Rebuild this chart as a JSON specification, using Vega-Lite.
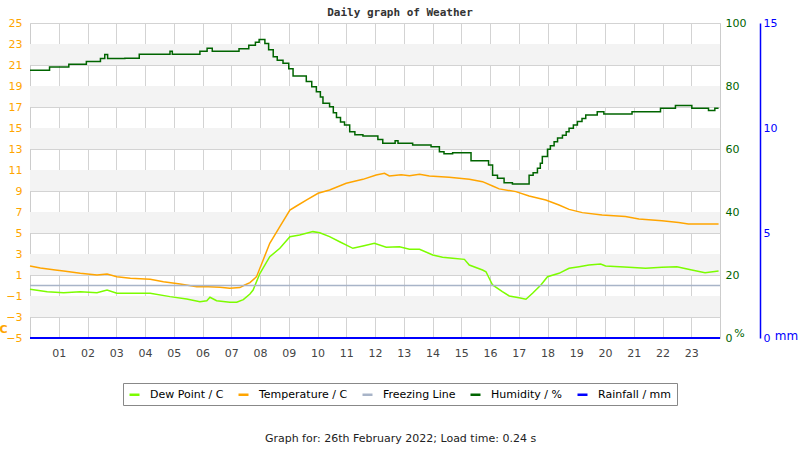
{
  "$schema": "https://vega.github.io/schema/vega-lite/v6.json",
  "width": 690,
  "height": 315,
  "autosize": "none",
  "padding": {"left": 30, "top": 23, "right": 80, "bottom": 112},
  "background": "white",
  "config": {
    "view": {"stroke": "#cccccc"},
    "font": "DejaVu Sans"
  },
  "title": {
    "text": "Daily graph of Weather",
    "font": "DejaVu Sans Mono",
    "fontWeight": "bold",
    "fontSize": 11,
    "color": "#333333",
    "anchor": "middle",
    "dx": 25,
    "offset": -1
  },
  "datasets": {
    "bands": [
      {"lo": 21, "hi": 23}, {"lo": 17, "hi": 19}, {"lo": 13, "hi": 15}, {"lo": 9, "hi": 11},
      {"lo": 5, "hi": 7}, {"lo": 1, "hi": 3}, {"lo": -3, "hi": -1}
    ],
    "weather": [
      {"s": "Temperature / C", "h": 0, "v": 1.86}, {"s": "Temperature / C", "h": 0.36, "v": 1.67},
      {"s": "Temperature / C", "h": 0.88, "v": 1.48}, {"s": "Temperature / C", "h": 1.17, "v": 1.38},
      {"s": "Temperature / C", "h": 1.75, "v": 1.16}, {"s": "Temperature / C", "h": 2.33, "v": 1.0},
      {"s": "Temperature / C", "h": 2.68, "v": 1.1}, {"s": "Temperature / C", "h": 3.02, "v": 0.84},
      {"s": "Temperature / C", "h": 3.49, "v": 0.69}, {"s": "Temperature / C", "h": 4.18, "v": 0.59},
      {"s": "Temperature / C", "h": 4.64, "v": 0.36}, {"s": "Temperature / C", "h": 5.22, "v": 0.14},
      {"s": "Temperature / C", "h": 5.8, "v": -0.11}, {"s": "Temperature / C", "h": 6.2, "v": -0.11},
      {"s": "Temperature / C", "h": 6.61, "v": -0.17}, {"s": "Temperature / C", "h": 6.95, "v": -0.27},
      {"s": "Temperature / C", "h": 7.3, "v": -0.2}, {"s": "Temperature / C", "h": 7.47, "v": 0.05},
      {"s": "Temperature / C", "h": 7.65, "v": 0.27}, {"s": "Temperature / C", "h": 7.88, "v": 0.84},
      {"s": "Temperature / C", "h": 8.11, "v": 2.43}, {"s": "Temperature / C", "h": 8.34, "v": 4.02},
      {"s": "Temperature / C", "h": 8.69, "v": 5.6}, {"s": "Temperature / C", "h": 9.04, "v": 7.19},
      {"s": "Temperature / C", "h": 9.27, "v": 7.57}, {"s": "Temperature / C", "h": 9.61, "v": 8.14},
      {"s": "Temperature / C", "h": 10.02, "v": 8.78}, {"s": "Temperature / C", "h": 10.42, "v": 9.1},
      {"s": "Temperature / C", "h": 11.0, "v": 9.73}, {"s": "Temperature / C", "h": 11.58, "v": 10.11},
      {"s": "Temperature / C", "h": 12.04, "v": 10.52}, {"s": "Temperature / C", "h": 12.33, "v": 10.68},
      {"s": "Temperature / C", "h": 12.5, "v": 10.43}, {"s": "Temperature / C", "h": 12.91, "v": 10.55},
      {"s": "Temperature / C", "h": 13.2, "v": 10.46}, {"s": "Temperature / C", "h": 13.55, "v": 10.59},
      {"s": "Temperature / C", "h": 13.89, "v": 10.43}, {"s": "Temperature / C", "h": 14.58, "v": 10.3},
      {"s": "Temperature / C", "h": 15.28, "v": 10.11}, {"s": "Temperature / C", "h": 15.74, "v": 9.89},
      {"s": "Temperature / C", "h": 16.09, "v": 9.48}, {"s": "Temperature / C", "h": 16.32, "v": 9.2},
      {"s": "Temperature / C", "h": 16.9, "v": 8.94}, {"s": "Temperature / C", "h": 17.36, "v": 8.52},
      {"s": "Temperature / C", "h": 17.94, "v": 8.14}, {"s": "Temperature / C", "h": 18.4, "v": 7.67},
      {"s": "Temperature / C", "h": 18.75, "v": 7.25}, {"s": "Temperature / C", "h": 19.21, "v": 6.94},
      {"s": "Temperature / C", "h": 19.9, "v": 6.71}, {"s": "Temperature / C", "h": 20.71, "v": 6.56},
      {"s": "Temperature / C", "h": 21.18, "v": 6.33}, {"s": "Temperature / C", "h": 21.98, "v": 6.17},
      {"s": "Temperature / C", "h": 22.56, "v": 6.01}, {"s": "Temperature / C", "h": 22.9, "v": 5.86},
      {"s": "Temperature / C", "h": 23.95, "v": 5.86},

      {"s": "Dew Point / C", "h": 0, "v": -0.36}, {"s": "Dew Point / C", "h": 0.6, "v": -0.59},
      {"s": "Dew Point / C", "h": 1.17, "v": -0.69}, {"s": "Dew Point / C", "h": 1.75, "v": -0.59},
      {"s": "Dew Point / C", "h": 2.33, "v": -0.69}, {"s": "Dew Point / C", "h": 2.68, "v": -0.43},
      {"s": "Dew Point / C", "h": 3.02, "v": -0.74}, {"s": "Dew Point / C", "h": 3.6, "v": -0.74},
      {"s": "Dew Point / C", "h": 4.18, "v": -0.74}, {"s": "Dew Point / C", "h": 4.87, "v": -1.06},
      {"s": "Dew Point / C", "h": 5.45, "v": -1.29}, {"s": "Dew Point / C", "h": 5.91, "v": -1.54},
      {"s": "Dew Point / C", "h": 6.15, "v": -1.45}, {"s": "Dew Point / C", "h": 6.26, "v": -1.12},
      {"s": "Dew Point / C", "h": 6.49, "v": -1.45}, {"s": "Dew Point / C", "h": 6.95, "v": -1.6},
      {"s": "Dew Point / C", "h": 7.19, "v": -1.6}, {"s": "Dew Point / C", "h": 7.42, "v": -1.35},
      {"s": "Dew Point / C", "h": 7.65, "v": -0.81}, {"s": "Dew Point / C", "h": 7.76, "v": -0.43},
      {"s": "Dew Point / C", "h": 8.0, "v": 1.16}, {"s": "Dew Point / C", "h": 8.34, "v": 2.74},
      {"s": "Dew Point / C", "h": 8.69, "v": 3.54}, {"s": "Dew Point / C", "h": 9.04, "v": 4.65},
      {"s": "Dew Point / C", "h": 9.38, "v": 4.81}, {"s": "Dew Point / C", "h": 9.84, "v": 5.13},
      {"s": "Dew Point / C", "h": 10.08, "v": 5.03}, {"s": "Dew Point / C", "h": 10.42, "v": 4.65},
      {"s": "Dew Point / C", "h": 10.77, "v": 4.17}, {"s": "Dew Point / C", "h": 11.23, "v": 3.54},
      {"s": "Dew Point / C", "h": 11.58, "v": 3.76}, {"s": "Dew Point / C", "h": 11.98, "v": 4.02},
      {"s": "Dew Point / C", "h": 12.39, "v": 3.64}, {"s": "Dew Point / C", "h": 12.85, "v": 3.7},
      {"s": "Dew Point / C", "h": 13.2, "v": 3.45}, {"s": "Dew Point / C", "h": 13.55, "v": 3.45},
      {"s": "Dew Point / C", "h": 14.01, "v": 2.9}, {"s": "Dew Point / C", "h": 14.35, "v": 2.69},
      {"s": "Dew Point / C", "h": 14.7, "v": 2.59}, {"s": "Dew Point / C", "h": 15.11, "v": 2.49},
      {"s": "Dew Point / C", "h": 15.28, "v": 1.95}, {"s": "Dew Point / C", "h": 15.74, "v": 1.48},
      {"s": "Dew Point / C", "h": 15.86, "v": 1.31}, {"s": "Dew Point / C", "h": 16.09, "v": 0.05},
      {"s": "Dew Point / C", "h": 16.43, "v": -0.59}, {"s": "Dew Point / C", "h": 16.67, "v": -1.0},
      {"s": "Dew Point / C", "h": 17.01, "v": -1.16}, {"s": "Dew Point / C", "h": 17.25, "v": -1.31},
      {"s": "Dew Point / C", "h": 17.48, "v": -0.74}, {"s": "Dew Point / C", "h": 17.77, "v": 0.05},
      {"s": "Dew Point / C", "h": 18.0, "v": 0.84}, {"s": "Dew Point / C", "h": 18.4, "v": 1.16},
      {"s": "Dew Point / C", "h": 18.75, "v": 1.64}, {"s": "Dew Point / C", "h": 19.1, "v": 1.79},
      {"s": "Dew Point / C", "h": 19.44, "v": 1.95}, {"s": "Dew Point / C", "h": 19.85, "v": 2.05},
      {"s": "Dew Point / C", "h": 20.02, "v": 1.86}, {"s": "Dew Point / C", "h": 20.83, "v": 1.73},
      {"s": "Dew Point / C", "h": 21.41, "v": 1.64}, {"s": "Dew Point / C", "h": 21.98, "v": 1.73},
      {"s": "Dew Point / C", "h": 22.5, "v": 1.79}, {"s": "Dew Point / C", "h": 23.02, "v": 1.48},
      {"s": "Dew Point / C", "h": 23.48, "v": 1.22}, {"s": "Dew Point / C", "h": 23.95, "v": 1.38},

      {"s": "Freezing Line", "h": 0, "v": 0}, {"s": "Freezing Line", "h": 24, "v": 0},

      {"s": "Humidity / %", "h": 0, "v": 85}, {"s": "Humidity / %", "h": 0.68, "v": 86},
      {"s": "Humidity / %", "h": 1.35, "v": 86.9}, {"s": "Humidity / %", "h": 1.96, "v": 87.8},
      {"s": "Humidity / %", "h": 2.45, "v": 88.7}, {"s": "Humidity / %", "h": 2.6, "v": 90},
      {"s": "Humidity / %", "h": 2.7, "v": 88.7}, {"s": "Humidity / %", "h": 3.3, "v": 88.8},
      {"s": "Humidity / %", "h": 3.8, "v": 90.1}, {"s": "Humidity / %", "h": 4.87, "v": 91},
      {"s": "Humidity / %", "h": 4.95, "v": 90.1}, {"s": "Humidity / %", "h": 5.91, "v": 91},
      {"s": "Humidity / %", "h": 6.16, "v": 92}, {"s": "Humidity / %", "h": 6.34, "v": 91},
      {"s": "Humidity / %", "h": 7.27, "v": 91.8}, {"s": "Humidity / %", "h": 7.61, "v": 92.9},
      {"s": "Humidity / %", "h": 7.84, "v": 93.9}, {"s": "Humidity / %", "h": 7.97, "v": 94.8},
      {"s": "Humidity / %", "h": 8.17, "v": 93.5}, {"s": "Humidity / %", "h": 8.3, "v": 91.5},
      {"s": "Humidity / %", "h": 8.46, "v": 89.3}, {"s": "Humidity / %", "h": 8.6, "v": 88.2},
      {"s": "Humidity / %", "h": 8.8, "v": 87.2}, {"s": "Humidity / %", "h": 9.0, "v": 85.5},
      {"s": "Humidity / %", "h": 9.15, "v": 83.2}, {"s": "Humidity / %", "h": 9.61, "v": 81.4},
      {"s": "Humidity / %", "h": 9.8, "v": 79.8}, {"s": "Humidity / %", "h": 9.96, "v": 78.2},
      {"s": "Humidity / %", "h": 10.1, "v": 76.5}, {"s": "Humidity / %", "h": 10.19, "v": 74.5},
      {"s": "Humidity / %", "h": 10.42, "v": 73.4}, {"s": "Humidity / %", "h": 10.55, "v": 71.5},
      {"s": "Humidity / %", "h": 10.66, "v": 70}, {"s": "Humidity / %", "h": 10.8, "v": 68.6},
      {"s": "Humidity / %", "h": 10.94, "v": 67.6}, {"s": "Humidity / %", "h": 11.12, "v": 65.5},
      {"s": "Humidity / %", "h": 11.3, "v": 64.5}, {"s": "Humidity / %", "h": 11.58, "v": 64.1},
      {"s": "Humidity / %", "h": 12.1, "v": 63}, {"s": "Humidity / %", "h": 12.27, "v": 61.8},
      {"s": "Humidity / %", "h": 12.7, "v": 62.6}, {"s": "Humidity / %", "h": 12.8, "v": 61.8},
      {"s": "Humidity / %", "h": 13.31, "v": 61.3}, {"s": "Humidity / %", "h": 13.95, "v": 60.7},
      {"s": "Humidity / %", "h": 14.24, "v": 59.1}, {"s": "Humidity / %", "h": 14.4, "v": 58.5},
      {"s": "Humidity / %", "h": 14.7, "v": 58.8}, {"s": "Humidity / %", "h": 15.34, "v": 56.3},
      {"s": "Humidity / %", "h": 15.95, "v": 54.9}, {"s": "Humidity / %", "h": 16.09, "v": 51.7},
      {"s": "Humidity / %", "h": 16.26, "v": 50.7}, {"s": "Humidity / %", "h": 16.49, "v": 49.3},
      {"s": "Humidity / %", "h": 16.78, "v": 48.9}, {"s": "Humidity / %", "h": 17.36, "v": 51.7},
      {"s": "Humidity / %", "h": 17.5, "v": 52.5}, {"s": "Humidity / %", "h": 17.65, "v": 53.9},
      {"s": "Humidity / %", "h": 17.75, "v": 55.5}, {"s": "Humidity / %", "h": 17.82, "v": 57.6},
      {"s": "Humidity / %", "h": 18.0, "v": 59.9}, {"s": "Humidity / %", "h": 18.1, "v": 61},
      {"s": "Humidity / %", "h": 18.23, "v": 62.3}, {"s": "Humidity / %", "h": 18.35, "v": 63.5},
      {"s": "Humidity / %", "h": 18.52, "v": 64.4}, {"s": "Humidity / %", "h": 18.65, "v": 65.5},
      {"s": "Humidity / %", "h": 18.75, "v": 66.6}, {"s": "Humidity / %", "h": 18.9, "v": 67.6},
      {"s": "Humidity / %", "h": 19.04, "v": 68.7}, {"s": "Humidity / %", "h": 19.2, "v": 69.7},
      {"s": "Humidity / %", "h": 19.33, "v": 70.8}, {"s": "Humidity / %", "h": 19.73, "v": 71.8},
      {"s": "Humidity / %", "h": 19.96, "v": 71.1}, {"s": "Humidity / %", "h": 20.94, "v": 71.8},
      {"s": "Humidity / %", "h": 21.93, "v": 72.9}, {"s": "Humidity / %", "h": 22.45, "v": 73.8},
      {"s": "Humidity / %", "h": 23.02, "v": 72.9}, {"s": "Humidity / %", "h": 23.6, "v": 72.2},
      {"s": "Humidity / %", "h": 23.82, "v": 72.9}, {"s": "Humidity / %", "h": 23.95, "v": 72.9},

      {"s": "Rainfall / mm", "h": 0, "v": 0}, {"s": "Rainfall / mm", "h": 24, "v": 0}
    ]
  },
  "resolve": {"scale": {"y": "independent"}},
  "layer": [
    {
      "layer": [
        {
          "data": {"name": "bands"},
          "mark": {"type": "rect", "fill": "#f3f3f3"},
          "encoding": {
            "x": {"datum": 0, "type": "quantitative", "scale": {"domain": [0, 24], "nice": false, "zero": false},
              "axis": {"values": [1,2,3,4,5,6,7,8,9,10,11,12,13,14,15,16,17,18,19,20,21,22,23],
                "labelExpr": "datum.value < 10 ? '0' + datum.value : '' + datum.value",
                "grid": true, "gridColor": "#d3d3d3", "ticks": false, "domain": false,
                "labelColor": "#444444", "labelFontSize": 11, "labelPadding": 9, "labelFont": "DejaVu Sans",
                "title": "Graph for: 26th February 2022; Load time: 0.24 s",
                "titleFont": "DejaVu Sans", "titleFontWeight": "normal", "titleFontSize": 11, "titleColor": "#222222",
                "titleX": 370, "titleY": 100, "titleBaseline": "middle", "titleAlign": "center"}},
            "x2": {"datum": 24},
            "y": {"field": "lo", "type": "quantitative", "scale": {"domain": [-5, 25], "nice": false, "zero": false},
              "axis": {"values": [-5,-3,-1,1,3,5,7,9,11,13,15,17,19,21,23,25],
                "grid": true, "gridColor": "#d3d3d3", "ticks": false, "domain": false,
                "labelColor": "#FFA500", "labelFontSize": 11, "labelPadding": 8, "labelFont": "DejaVu Sans",
                "title": "C", "titleAngle": 0, "titleColor": "#FFA500", "titleFontWeight": "bold", "titleFontSize": 11,
                "titleFont": "DejaVu Sans", "titleX": -27, "titleY": 306, "titleAlign": "center", "titleBaseline": "middle"}},
            "y2": {"field": "hi"}
          }
        },
        {
          "data": {"name": "weather"},
          "transform": [{"filter": "datum.s == 'Dew Point / C' || datum.s == 'Temperature / C' || datum.s == 'Freezing Line'"}],
          "mark": {"type": "line", "strokeWidth": 1.5, "interpolate": "linear"},
          "encoding": {
            "x": {"field": "h", "type": "quantitative", "scale": {"domain": [0, 24], "nice": false, "zero": false},
              "axis": {"values": [1,2,3,4,5,6,7,8,9,10,11,12,13,14,15,16,17,18,19,20,21,22,23],
                "labelExpr": "datum.value < 10 ? '0' + datum.value : '' + datum.value",
                "grid": true, "gridColor": "#d3d3d3", "ticks": false, "domain": false,
                "labelColor": "#444444", "labelFontSize": 11, "labelPadding": 9, "labelFont": "DejaVu Sans",
                "title": "Graph for: 26th February 2022; Load time: 0.24 s",
                "titleFont": "DejaVu Sans", "titleFontWeight": "normal", "titleFontSize": 11, "titleColor": "#222222",
                "titleX": 370, "titleY": 100, "titleBaseline": "middle", "titleAlign": "center"}},
            "y": {"field": "v", "type": "quantitative", "scale": {"domain": [-5, 25], "nice": false, "zero": false},
              "axis": {"values": [-5,-3,-1,1,3,5,7,9,11,13,15,17,19,21,23,25],
                "grid": true, "gridColor": "#d3d3d3", "ticks": false, "domain": false,
                "labelColor": "#FFA500", "labelFontSize": 11, "labelPadding": 8, "labelFont": "DejaVu Sans",
                "title": "C", "titleAngle": 0, "titleColor": "#FFA500", "titleFontWeight": "bold", "titleFontSize": 11,
                "titleFont": "DejaVu Sans", "titleX": -27, "titleY": 306, "titleAlign": "center", "titleBaseline": "middle"}},
            "color": {"field": "s", "type": "nominal",
              "scale": {"domain": ["Dew Point / C", "Temperature / C", "Freezing Line", "Humidity / %", "Rainfall / mm"],
                        "range": ["#7CFC00", "#FFA500", "#A8B4C8", "#006400", "#0000FF"]},
              "legend": {"orient": "none", "legendX": 93, "legendY": 360, "direction": "horizontal", "title": null,
                "symbolType": "stroke", "symbolStrokeWidth": 2.5, "symbolSize": 100,
                "labelFont": "DejaVu Sans", "labelFontSize": 11, "labelColor": "#000000", "labelOffset": 9,
                "strokeColor": "#888888", "padding": 5, "columnPadding": 9}}
          }
        }
      ]
    },
    {
      "data": {"name": "weather"},
      "transform": [{"filter": "datum.s == 'Humidity / %'"}],
      "mark": {"type": "line", "strokeWidth": 1.5, "interpolate": "step-after"},
      "encoding": {
        "x": {"field": "h", "type": "quantitative", "scale": {"domain": [0, 24], "nice": false, "zero": false},
          "axis": {"values": [1,2,3,4,5,6,7,8,9,10,11,12,13,14,15,16,17,18,19,20,21,22,23],
            "labelExpr": "datum.value < 10 ? '0' + datum.value : '' + datum.value",
            "grid": true, "gridColor": "#d3d3d3", "ticks": false, "domain": false,
            "labelColor": "#444444", "labelFontSize": 11, "labelPadding": 9, "labelFont": "DejaVu Sans",
            "title": "Graph for: 26th February 2022; Load time: 0.24 s",
            "titleFont": "DejaVu Sans", "titleFontWeight": "normal", "titleFontSize": 11, "titleColor": "#222222",
            "titleX": 370, "titleY": 100, "titleBaseline": "middle", "titleAlign": "center"}},
        "y": {"field": "v", "type": "quantitative", "scale": {"domain": [0, 100], "nice": false, "zero": false},
          "axis": {"orient": "right", "values": [0, 20, 40, 60, 80, 100], "grid": false, "ticks": false, "domain": false,
            "labelColor": "#006400", "labelFontSize": 11, "labelPadding": 5, "labelFont": "DejaVu Sans",
            "title": "%", "titleAngle": 0, "titleColor": "#006400", "titleFontWeight": "normal", "titleFontSize": 11,
            "titleFont": "DejaVu Sans", "titleX": 19, "titleY": 310, "titleAlign": "center", "titleBaseline": "middle"}},
        "color": {"field": "s", "type": "nominal"}
      }
    },
    {
      "data": {"name": "weather"},
      "transform": [{"filter": "datum.s == 'Rainfall / mm'"}],
      "mark": {"type": "line", "strokeWidth": 2},
      "encoding": {
        "x": {"field": "h", "type": "quantitative", "scale": {"domain": [0, 24], "nice": false, "zero": false},
          "axis": {"values": [1,2,3,4,5,6,7,8,9,10,11,12,13,14,15,16,17,18,19,20,21,22,23],
            "labelExpr": "datum.value < 10 ? '0' + datum.value : '' + datum.value",
            "grid": true, "gridColor": "#d3d3d3", "ticks": false, "domain": false,
            "labelColor": "#444444", "labelFontSize": 11, "labelPadding": 9, "labelFont": "DejaVu Sans",
            "title": "Graph for: 26th February 2022; Load time: 0.24 s",
            "titleFont": "DejaVu Sans", "titleFontWeight": "normal", "titleFontSize": 11, "titleColor": "#222222",
            "titleX": 370, "titleY": 100, "titleBaseline": "middle", "titleAlign": "center"}},
        "y": {"field": "v", "type": "quantitative", "scale": {"domain": [0, 15], "nice": false, "zero": false},
          "axis": {"orient": "right", "offset": 40, "values": [0, 5, 10, 15], "grid": false, "ticks": false,
            "domain": true, "domainColor": "#0000FF", "domainWidth": 1.5,
            "labelColor": "#0000FF", "labelFontSize": 11, "labelPadding": 3, "labelFont": "DejaVu Sans",
            "title": "mm", "titleAngle": 0, "titleColor": "#0000FF", "titleFontWeight": "normal", "titleFontSize": 12,
            "titleFont": "DejaVu Sans", "titleX": 26, "titleY": 312, "titleAlign": "center", "titleBaseline": "middle"}},
        "color": {"field": "s", "type": "nominal"}
      }
    }
  ]
}
